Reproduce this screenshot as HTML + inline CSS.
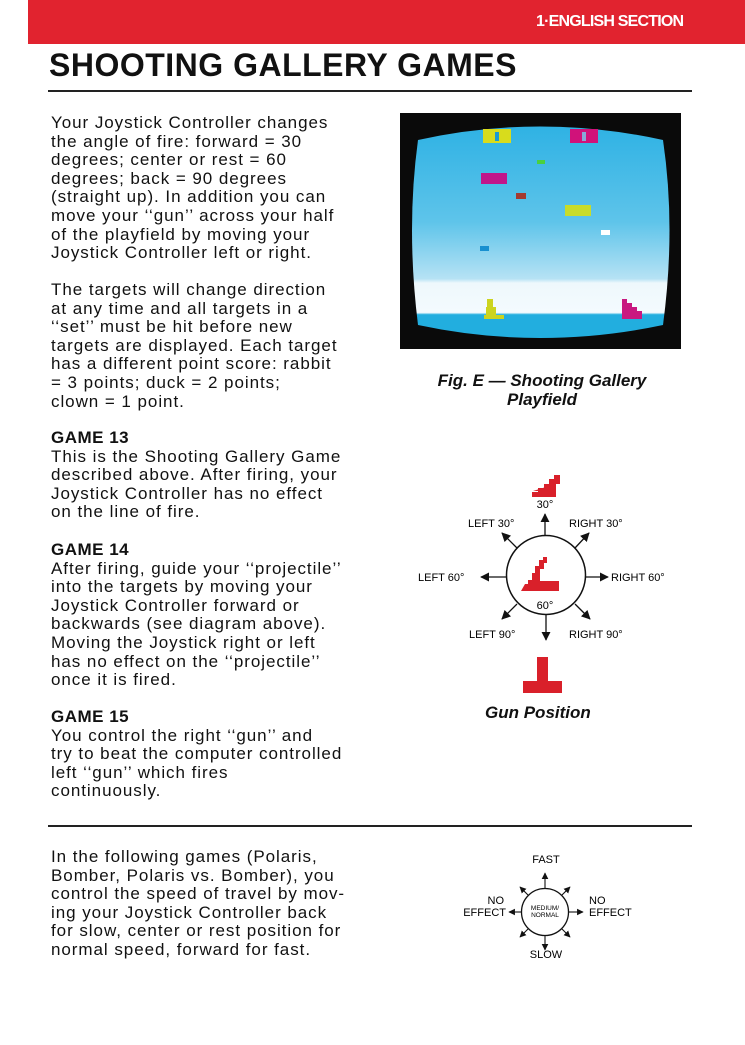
<!DOCTYPE html>
<html><head><meta charset="utf-8"><style>
body{margin:0;width:745px;height:1045px;background:#fff;position:relative;overflow:hidden;font-family:"Liberation Sans",sans-serif;color:#111}
.a{position:absolute;white-space:nowrap}
.p{position:absolute;left:51px;font-size:17px;line-height:18.6px;letter-spacing:0.95px;white-space:nowrap}
h3{margin:0;font-size:17px;font-weight:bold;letter-spacing:0.5px}
</style></head><body>
<div class="a" style="left:28px;top:0;width:717px;height:44px;background:#e1232f"></div>
<div class="a" style="left:536px;top:13px;color:#fff;font-size:16px;font-weight:bold;letter-spacing:-0.8px">1·ENGLISH SECTION</div>
<div class="a" style="left:49px;top:47px;font-size:32px;font-weight:bold;letter-spacing:0.5px">SHOOTING GALLERY GAMES</div>
<div class="a" style="left:48px;top:90px;width:644px;height:1.5px;background:#222"></div>

<div class="p" style="top:114px">Your Joystick Controller changes<br>the angle of fire: forward = 30<br>degrees; center or rest = 60<br>degrees; back = 90 degrees<br>(straight up). In addition you can<br>move your ‘‘gun’’ across your half<br>of the playfield by moving your<br>Joystick Controller left or right.</div>
<div class="p" style="top:281px">The targets will change direction<br>at any time and all targets in a<br>‘‘set’’ must be hit before new<br>targets are displayed. Each target<br>has a different point score: rabbit<br>= 3 points; duck = 2 points;<br>clown = 1 point.</div>
<div class="p" style="top:429px"><h3>GAME 13</h3>This is the Shooting Gallery Game<br>described above. After firing, your<br>Joystick Controller has no effect<br>on the line of fire.</div>
<div class="p" style="top:541px"><h3>GAME 14</h3>After firing, guide your ‘‘projectile’’<br>into the targets by moving your<br>Joystick Controller forward or<br>backwards (see diagram above).<br>Moving the Joystick right or left<br>has no effect on the ‘‘projectile’’<br>once it is fired.</div>
<div class="p" style="top:708px"><h3>GAME 15</h3>You control the right ‘‘gun’’ and<br>try to beat the computer controlled<br>left ‘‘gun’’ which fires<br>continuously.</div>

<svg class="a" style="left:400px;top:113px" width="281" height="236" viewBox="0 0 281 236">
<defs><linearGradient id="g" x1="0" y1="0" x2="0" y2="1">
<stop offset="0" stop-color="#2fb2e4"/><stop offset="0.45" stop-color="#5ec4ea"/><stop offset="0.72" stop-color="#b6e2f4"/><stop offset="0.74" stop-color="#eef8fc"/><stop offset="0.88" stop-color="#f4fbfe"/><stop offset="0.89" stop-color="#22aedf"/><stop offset="1" stop-color="#22aedf"/></linearGradient></defs>
<rect width="281" height="236" fill="#0a0a0a"/>
<path d="M18,27 Q140,0 263,27 Q276,115 263,212 Q140,238 18,212 Q6,115 18,27Z" fill="url(#g)"/>
<rect x="83" y="16" width="28" height="14" fill="#d8dc1c"/><rect x="95" y="19" width="4" height="9" fill="#1b9ad0"/>
<rect x="170" y="16" width="28" height="14" fill="#d0127a"/><rect x="182" y="19" width="4" height="9" fill="#88a8d8"/>
<rect x="81" y="60" width="26" height="11" fill="#c0168a"/>
<rect x="165" y="92" width="26" height="11" fill="#c8dc2a"/>
<rect x="116" y="80" width="10" height="6" fill="#a33a30"/>
<rect x="137" y="47" width="8" height="4" fill="#4ad040"/>
<rect x="201" y="117" width="9" height="5" fill="#fff"/>
<rect x="80" y="133" width="9" height="5" fill="#1890d0"/>
<path d="M84,206 h20 v-4 h-8 v-8 h-3 v-8 h-6 v8 h-1 v8 h-2z" fill="#ccd420"/>
<path d="M222,206 h20 v-8 h-5 v-4 h-5 v-4 h-5 v-4 h-5 z" fill="#c81880"/>
</svg>
<div class="a" style="left:422px;top:371px;font-size:17px;font-weight:bold;font-style:italic;text-align:center;width:240px;line-height:19px">Fig. E — Shooting Gallery<br>Playfield</div>

<svg class="a" style="left:410px;top:450px" width="280" height="250" viewBox="410 450 280 250" font-family="Liberation Sans" font-size="11">
<defs><marker id="m" viewBox="0 0 10 10" refX="9" refY="5" markerWidth="7" markerHeight="7" orient="auto"><path d="M0,0L10,5L0,10z" fill="#111"/></marker></defs>
<path d="M519,497 h37 v-13 h4 v-9 h-6 v4 h-5 v5 h-5 v4 h-6 v4 h-6 v5z M533,491 h23 v-4 h-10 z" fill="#d9202a"/>
<text x="545" y="508" text-anchor="middle">30°</text>
<circle cx="546" cy="575" r="39.5" fill="none" stroke="#111" stroke-width="1.5"/>
<path d="M521,591 h38 v-10 h-19 v-12 h4 v-6 h3 v-6 h-4 v3 h-4 v6 h-4 v7 h-3 v7 h-4 v4 h-3z" fill="#d9202a"/>
<text x="545" y="609" text-anchor="middle">60°</text>
<g stroke="#111" stroke-width="1.3" marker-end="url(#m)">
<line x1="545" y1="536" x2="545" y2="514"/>
<line x1="546" y1="614" x2="546" y2="640"/>
<line x1="506" y1="577" x2="481" y2="577"/>
<line x1="586" y1="577" x2="608" y2="577"/>
<line x1="517" y1="548" x2="502" y2="533"/>
<line x1="575" y1="548" x2="589" y2="533"/>
<line x1="517" y1="604" x2="502" y2="619"/>
<line x1="575" y1="604" x2="590" y2="619"/>
</g>
<text x="468" y="527">LEFT 30°</text><text x="569" y="527">RIGHT 30°</text>
<text x="418" y="581">LEFT 60°</text><text x="611" y="581">RIGHT 60°</text>
<text x="469" y="638">LEFT 90°</text><text x="569" y="638">RIGHT 90°</text>
<path d="M523,693 h39 v-12 h-14 v-24 h-11 v24 h-14z" fill="#d9202a"/>
</svg>
<div class="a" style="left:485px;top:703px;font-size:17px;font-weight:bold;font-style:italic">Gun Position</div>

<div class="a" style="left:48px;top:825px;width:644px;height:1.5px;background:#222"></div>
<div class="p" style="top:848px">In the following games (Polaris,<br>Bomber, Polaris vs. Bomber), you<br>control the speed of travel by mov-<br>ing your Joystick Controller back<br>for slow, center or rest position for<br>normal speed, forward for fast.</div>

<svg class="a" style="left:450px;top:845px" width="190" height="120" viewBox="450 845 190 120" font-family="Liberation Sans" font-size="11">
<defs><marker id="n" viewBox="0 0 10 10" refX="9" refY="5" markerWidth="6" markerHeight="6" orient="auto"><path d="M0,0L10,5L0,10z" fill="#111"/></marker></defs>
<circle cx="545" cy="912" r="23.5" fill="none" stroke="#111" stroke-width="1.3"/>
<text x="545" y="910" text-anchor="middle" font-size="6.5">MEDIUM/</text>
<text x="545" y="917" text-anchor="middle" font-size="6.5">NORMAL</text>
<g stroke="#111" stroke-width="1.1" marker-end="url(#n)">
<line x1="545" y1="888" x2="545" y2="873"/><line x1="545" y1="936" x2="545" y2="950"/>
<line x1="521" y1="912" x2="509" y2="912"/><line x1="569" y1="912" x2="583" y2="912"/>
<line x1="528" y1="895" x2="520" y2="887"/><line x1="562" y1="895" x2="570" y2="887"/>
<line x1="528" y1="929" x2="520" y2="937"/><line x1="562" y1="929" x2="570" y2="937"/>
</g>
<text x="546" y="863" text-anchor="middle">FAST</text>
<text x="546" y="958" text-anchor="middle">SLOW</text>
<text x="504" y="904" text-anchor="end">NO</text><text x="506" y="916" text-anchor="end">EFFECT</text>
<text x="589" y="904">NO</text><text x="589" y="916">EFFECT</text>
</svg>
</body></html>
